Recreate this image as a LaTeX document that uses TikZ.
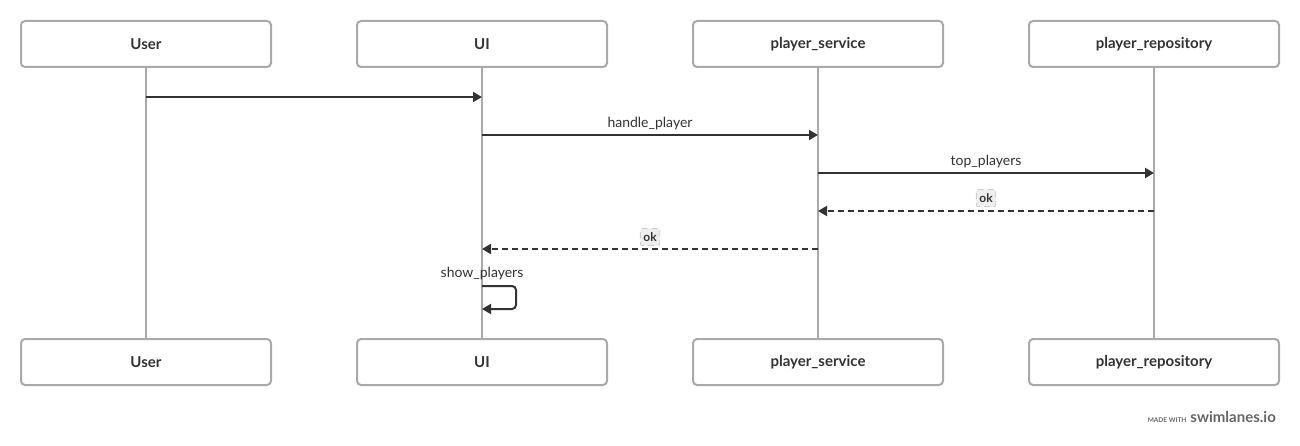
\documentclass[tikz,border=0pt]{standalone}
\usepackage{fontspec}
\setmainfont{Lato}
\usetikzlibrary{arrows.meta}
\definecolor{boxline}{HTML}{AAAAAA}
\definecolor{ink}{HTML}{333333}
\definecolor{okfill}{HTML}{EEEEEE}
\definecolor{okline}{HTML}{CCCCCC}
\definecolor{credit}{HTML}{666666}
\tikzset{
  actor/.style={draw=boxline, line width=2pt, rounded corners=4pt, minimum width=250pt,
    minimum height=46pt, inner sep=0pt, font=\fontsize{15}{17}\selectfont\bfseries, text=ink},
  lifeline/.style={draw=boxline, line width=2pt},
  msg/.style={draw=ink, line width=2pt, -{Triangle[length=9pt,width=10pt]}},
  reply/.style={msg, dash pattern=on 6pt off 4pt},
  msglabel/.style={font=\fontsize{14}{16}\selectfont, text=ink, inner sep=1pt},
  okbox/.style={draw=okline, fill=okfill, rounded corners=2pt, line width=0.8pt,
    font=\fontsize{12}{13}\selectfont\bfseries, text=ink, inner xsep=3pt, inner ysep=2.5pt,
    minimum height=17pt}
}
\begin{document}
\begin{tikzpicture}[x=1pt,y=-1pt]
\useasboundingbox (0,0) rectangle (1300,446);
% participants, top and bottom
\foreach \n/\t/\x in {u/User/146, ui/UI/482, ps/player\_service/818, pr/player\_repository/1154}{
  \node[actor] (\n top) at (\x,44) {\t};
  \node[actor] (\n bot) at (\x,362) {\t};
  \draw[lifeline] (\n top.south) -- (\n bot.north);
}
% message anchors on the lifelines
\coordinate (m1a) at (146,97);  \coordinate (m1b) at (482,97);
\coordinate (m2a) at (482,135); \coordinate (m2b) at (818,135);
\coordinate (m3a) at (818,173); \coordinate (m3b) at (1154,173);
\coordinate (m4a) at (1154,211);\coordinate (m4b) at (818,211);
\coordinate (m5a) at (818,249); \coordinate (m5b) at (482,249);
\coordinate (s1) at (482,286);  \coordinate (s2) at (482,309);
% messages
\draw[msg] (m1a) -- (m1b);
\draw[msg] (m2a) -- node[msglabel, above=3pt] (l2) {handle\_player} (m2b);
\draw[msg] (m3a) -- node[msglabel, above=3pt] (l3) {top\_players} (m3b);
\draw[reply] (m4a) -- node[okbox, above=4pt] (l4) {ok} (m4b);
\draw[reply] (m5a) -- node[okbox, above=3pt] (l5) {ok} (m5b);
% self call
\node[msglabel] (l6) at (482,274) {show\_players};
\draw[msg, rounded corners=4pt] (s1) -- ++(34,0) -- ++(0,23) -- (s2);
% credit
\node[anchor=base east, text=credit, inner sep=0pt] (credit) at (1276,422)
  {{\fontsize{6.5}{7}\selectfont\bfseries MADE WITH}\hspace{4pt}{\fontsize{15}{17}\selectfont\bfseries swimlanes.io}};
\end{tikzpicture}
\end{document}
